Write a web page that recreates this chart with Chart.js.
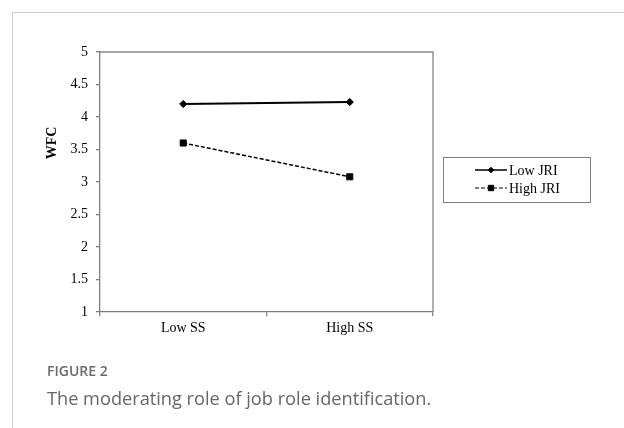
<!DOCTYPE html>
<html>
<head>
<meta charset="utf-8">
<script src="https://cdn.jsdelivr.net/npm/chart.js@4/dist/chart.umd.min.js"></script>
<style>
  html, body { margin: 0; padding: 0; background: #fff; }
  #wrap { position: relative; width: 624px; height: 428px; overflow: hidden; }
  #frame { position: absolute; left: 12px; top: 12px; width: 640px; height: 440px;
           border-left: 1.5px solid #cfcfcf; border-top: 1.5px solid #cfcfcf; box-sizing: border-box; }
  canvas { position: absolute; left: 0; top: 0; }
  #figlabel { position: absolute; left: 47px; top: 362px; font-family: "Open Sans", sans-serif;
              font-weight: 600; font-size: 14px; color: #6a6a6a; line-height: 18px; }
  #figcap { position: absolute; left: 47px; top: 386px; font-family: "Open Sans", sans-serif;
            font-size: 18.2px; color: #666; line-height: 24px; }
</style>
</head>
<body>
<div id="wrap">
  <div id="frame"></div>
  <canvas id="c" width="624" height="428"></canvas>
  <div id="figlabel">FIGURE 2</div>
  <div id="figcap">The moderating role of job role identification.</div>
</div>
<script>
const categories = ['Low SS', 'High SS'];
const lowJRI = [4.20, 4.23];
const highJRI = [3.60, 3.08];
const seriesNames = ['Low JRI', 'High JRI'];
const yTickValues = [1, 1.5, 2, 2.5, 3, 3.5, 4, 4.5, 5];
const yTitle = 'WFC';

const SERIF = '"Liberation Serif", "Times New Roman", serif';

const extras = {
  id: 'extras',
  afterDraw(chart, args, opts) {
    const ctx = chart.ctx;
    const a = chart.chartArea;
    ctx.save();
    // plot box top & right borders
    ctx.strokeStyle = '#858585';
    ctx.lineWidth = 1.3;
    ctx.beginPath();
    ctx.moveTo(a.left, a.top);
    ctx.lineTo(a.right, a.top);
    ctx.lineTo(a.right, a.bottom);
    ctx.stroke();
    // y title
    ctx.fillStyle = '#000';
    ctx.font = 'bold 14px ' + SERIF;
    ctx.textAlign = 'center';
    ctx.textBaseline = 'middle';
    ctx.translate(opts.titleX, opts.titleY);
    ctx.rotate(-Math.PI / 2);
    ctx.fillText(yTitle, 0, 0);
    ctx.restore();

    // legend box
    const L = opts.legend;
    ctx.save();
    ctx.fillStyle = '#fff';
    ctx.fillRect(L.x, L.y, L.w, L.h);
    ctx.strokeStyle = '#808080';
    ctx.lineWidth = 1;
    ctx.strokeRect(L.x + 0.5, L.y + 0.5, L.w, L.h);
    chart.data.datasets.forEach((ds, i) => {
      const y = L.rows[i];
      ctx.strokeStyle = ds.borderColor;
      ctx.lineWidth = ds.legendLineWidth || ds.borderWidth;
      ctx.setLineDash(ds.borderDash || []);
      ctx.beginPath();
      ctx.moveTo(L.lineX0, y);
      ctx.lineTo(L.lineX1, y);
      ctx.stroke();
      ctx.setLineDash([]);
      ctx.fillStyle = ds.pointBackgroundColor;
      ctx.strokeStyle = ds.pointBorderColor;
      ctx.lineWidth = 1;
      Chart.helpers.drawPoint(ctx, {
        pointStyle: ds.pointStyle, radius: ds.legendPointRadius, borderWidth: 1
      }, (L.lineX0 + L.lineX1) / 2, y);
      ctx.fillStyle = '#000';
      ctx.font = '14px ' + SERIF;
      ctx.textAlign = 'left';
      ctx.textBaseline = 'middle';
      ctx.fillText(ds.label, L.textX, y + 1);
    });
    ctx.restore();
  }
};

new Chart(document.getElementById('c'), {
  type: 'line',
  data: {
    labels: categories,
    datasets: [
      {
        label: seriesNames[0], data: lowJRI,
        borderColor: '#000', backgroundColor: '#000', borderWidth: 2,
        pointStyle: 'rectRot', pointRadius: 3.6, pointBorderWidth: 1,
        pointBackgroundColor: '#000', pointBorderColor: '#000', tension: 0,
        legendPointRadius: 2.8, legendLineWidth: 1.5
      },
      {
        label: seriesNames[1], data: highJRI,
        borderColor: '#000', backgroundColor: '#000', borderWidth: 1.5, borderDash: [4, 2],
        pointStyle: 'rect', pointRadius: 4.3, pointBorderWidth: 1,
        pointBackgroundColor: '#000', pointBorderColor: '#000', tension: 0,
        legendPointRadius: 3.8, legendLineWidth: 1.2
      }
    ]
  },
  options: {
    responsive: false,
    animation: false,
    devicePixelRatio: 1,
    layout: { padding: { left: 31, top: 52, right: 191, bottom: 0 } },
    plugins: {
      legend: { display: false },
      tooltip: { enabled: false },
      extras: {
        titleX: 52, titleY: 143,
        legend: { x: 443, y: 157, w: 147, h: 45, rows: [170, 188], lineX0: 475, lineX1: 507, textX: 509 }
      }
    },
    scales: {
      x: {
        type: 'category',
        offset: true,
        afterFit: (s) => { s.height = 116; },
        grid: { display: true, offset: true, drawOnChartArea: false, drawTicks: true, tickLength: 4, color: '#7f7f7f', lineWidth: 1.3 },
        border: { display: true, color: '#7f7f7f', width: 1.3 },
        ticks: { color: '#000', font: { family: SERIF, size: 14 }, padding: 4, maxRotation: 0 }
      },
      y: {
        min: 1, max: 5,
        afterFit: (s) => { s.width = 69; },
        afterBuildTicks: (s) => { s.ticks = yTickValues.map(v => ({ value: v })); },
        grid: { display: true, drawOnChartArea: false, drawTicks: true, tickLength: 4, color: '#7f7f7f', lineWidth: 1.3 },
        border: { display: true, color: '#7f7f7f', width: 1.3 },
        ticks: { color: '#000', font: { family: SERIF, size: 14 }, padding: 8, callback: (v) => String(v) }
      }
    }
  },
  plugins: [extras]
});
</script>
</body>
</html>
